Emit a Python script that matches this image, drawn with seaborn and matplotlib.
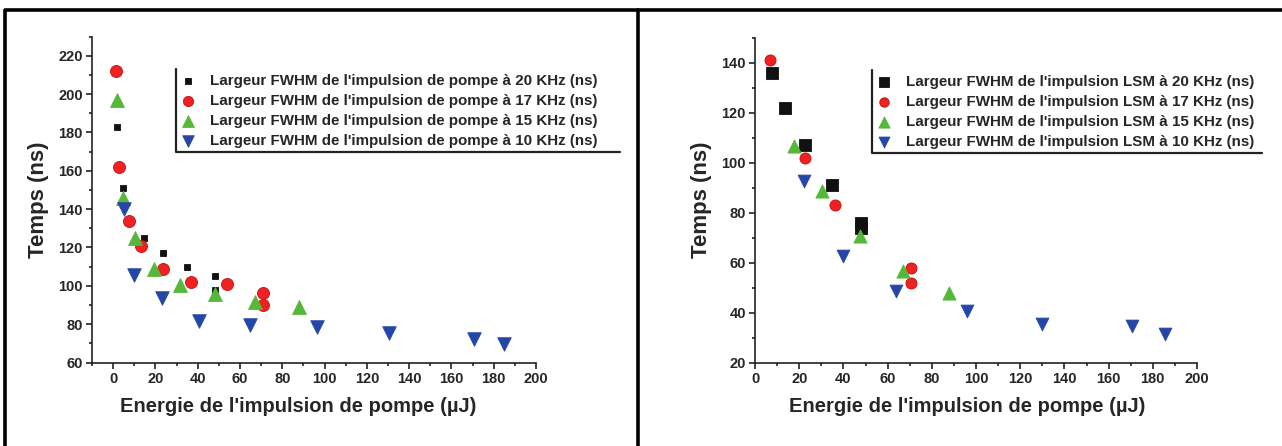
import matplotlib
matplotlib.use("Agg")
import matplotlib.pyplot as plt
from matplotlib.lines import Line2D
from matplotlib.ticker import MultipleLocator
import numpy as np
import pandas as pd
import seaborn as sns

# ---------------------------------------------------------------
# data
# ---------------------------------------------------------------
# left panel : pump pulse width vs pump energy
pump_20_x = [2, 4.5, 8.5, 14.5, 23.5, 35, 48, 48]
pump_20_y = [183, 151, 134, 125, 117, 110, 105, 98]
pump_17_x = [1.4, 3, 7.4, 13.2, 23.6, 37, 54, 71, 71]
pump_17_y = [212, 162, 134, 121, 109, 102, 101, 96, 90]
pump_15_x = [1.7, 4.6, 10.4, 19.2, 31.5, 48, 67, 88]
pump_15_y = [197, 146, 125, 108.5, 100.5, 95.5, 91.5, 89]
pump_10_x = [5, 10, 23, 40.5, 64.5, 96.5, 130.5, 170.5, 185]
pump_10_y = [140, 105.5, 93.5, 81.5, 79.5, 78.5, 75.5, 72.5, 69.5]

# right panel : LSM pulse width vs pump energy
lsm_20_x = [7.7, 13.6, 22.7, 34.7, 47.9, 47.9]
lsm_20_y = [136, 122, 107, 91, 76, 74]
lsm_17_x = [6.6, 22.5, 36.2, 70.5, 70.5]
lsm_17_y = [141, 102, 83, 58, 52]
lsm_15_x = [17.8, 30.3, 47.4, 66.8, 87.6]
lsm_15_y = [106.5, 88.5, 70.5, 56.5, 48]
lsm_10_x = [22.1, 39.8, 63.9, 96.1, 130, 170.5, 185.3]
lsm_10_y = [92.5, 62.5, 48.5, 40.5, 35.5, 34.5, 31.5]

freqs = ["20", "17", "15", "10"]
left_labels = ["Largeur FWHM de l'impulsion de pompe à %s KHz (ns)" % f for f in freqs]
right_labels = ["Largeur FWHM de l'impulsion LSM à %s KHz (ns)" % f for f in freqs]
xlabel = "Energie de l'impulsion de pompe (\u00b5J)"
ylabel = "Temps (ns)"

##################################################################
# style
##################################################################
sns.set_theme(style="ticks")
plt.rcParams["font.family"] = ["Liberation Sans", "DejaVu Sans"]
plt.rcParams["font.weight"] = "bold"
plt.rcParams["axes.labelweight"] = "bold"

COLORS = ["#111111", "#ee2222", "#55b83a", "#2446a6"]
MARKERS = ["s", "o", "^", "v"]
EDGES = ["#111111", "#c41010", "#55b83a", "#2446a6"]


def make_df(xs, ys, labels):
    frames = []
    for x, y, lab in zip(xs, ys, labels):
        frames.append(pd.DataFrame({"x": x, "y": y, "serie": lab}))
    return pd.concat(frames, ignore_index=True)


def draw_panel(ax, df, labels, sizes, leg_anchor, xlab_pos):
    for i, lab in enumerate(labels):
        sub = df[df["serie"] == lab]
        sns.scatterplot(data=sub, x="x", y="y", ax=ax, marker=MARKERS[i],
                        color=COLORS[i], edgecolor=EDGES[i], linewidth=0.6,
                        s=sizes[i], label=lab, zorder=3)
    for side in ["top", "right"]:
        ax.spines[side].set_visible(False)
    for side in ["left", "bottom"]:
        ax.spines[side].set_linewidth(1.2)
        ax.spines[side].set_color("#222222")
    ax.xaxis.set_major_locator(MultipleLocator(20))
    ax.xaxis.set_minor_locator(MultipleLocator(10))
    ax.yaxis.set_major_locator(MultipleLocator(20))
    ax.yaxis.set_minor_locator(MultipleLocator(10))
    ax.tick_params(which="major", direction="out", length=4.5, width=1.2,
                   labelsize=10.5, pad=2, color="#222222")
    ax.tick_params(which="minor", direction="out", length=2.5, width=1.2,
                   color="#222222")
    for t in ax.get_xticklabels() + ax.get_yticklabels():
        t.set_fontweight("bold")
    ax.set_xlabel(xlabel, fontsize=14.5, fontweight="bold")
    ax.xaxis.set_label_coords(xlab_pos, -0.105)
    ax.set_ylabel(ylabel, fontsize=16, fontweight="bold", labelpad=7)
    h, l = ax.get_legend_handles_labels()
    leg = ax.legend(h, l, loc="upper left", bbox_to_anchor=leg_anchor,
                    frameon=False, borderaxespad=0, fontsize=10.9,
                    handletextpad=0.95, labelspacing=0.4, handlelength=1.0,
                    markerscale=0.85, borderpad=0.3)
    for t in leg.get_texts():
        t.set_fontweight("bold")
    return leg


fig = plt.figure(figsize=(12.82, 4.46), dpi=100)
ax1 = fig.add_axes([92 / 1282, 83.5 / 446, 444 / 1282, 326 / 446])
ax2 = fig.add_axes([755 / 1282, 83.5 / 446, 442 / 1282, 325 / 446])

df_left = make_df([pump_20_x, pump_17_x, pump_15_x, pump_10_x],
                  [pump_20_y, pump_17_y, pump_15_y, pump_10_y], left_labels)
df_right = make_df([lsm_20_x, lsm_17_x, lsm_15_x, lsm_10_x],
                   [lsm_20_y, lsm_17_y, lsm_15_y, lsm_10_y], right_labels)

leg1 = draw_panel(ax1, df_left, left_labels, [20, 75, 100, 95], (0.19, 0.9), 0.465)
leg2 = draw_panel(ax2, df_right, right_labels, [64, 64, 90, 85], (0.265, 0.9), 0.48)
ax1.set_xlim(-10, 200)
ax1.set_ylim(60, 230)
ax2.set_xlim(0, 200)
ax2.set_ylim(20, 150)

# legend drawn as an "L" (left + bottom edge) like the original
fig.canvas.draw()
inv = fig.transFigure.inverted()
for leg, right_px in [(leg1, 620), (leg2, 1262)]:
    bb = leg.get_window_extent()
    (x0, y0), (x1, y1) = inv.transform([[bb.x0, bb.y0], [bb.x1, bb.y1]])
    xr = right_px / 1282
    fig.add_artist(Line2D([x0, x0, xr], [y1, y0, y0], color="#222222",
                          lw=1.6, transform=fig.transFigure))

# outer frame of the figure
frame_kw = dict(color="black", lw=2.6, transform=fig.transFigure)
fig.add_artist(Line2D([5 / 1282, 5 / 1282, 1.0], [0, 1 - 10 / 446, 1 - 10 / 446], **frame_kw))
fig.add_artist(Line2D([638 / 1282, 638 / 1282], [0, 1 - 10 / 446], **frame_kw))

fig.savefig("out.png", dpi=100)
